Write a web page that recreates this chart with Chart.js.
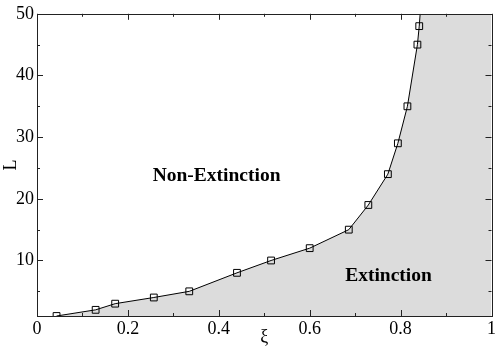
<!DOCTYPE html>
<html>
<head>
<meta charset="utf-8">
<script src="https://cdn.jsdelivr.net/npm/chart.js@4"></script>
<style>
  body { margin: 0; background: #fff; }
  #wrap { width: 498px; height: 354px; }
</style>
</head>
<body>
<div id="wrap"><canvas id="chart"></canvas></div>
<script>
// boundary between extinction / non-extinction
const xi = [0.043, 0.129, 0.172, 0.257, 0.335, 0.44, 0.515, 0.6, 0.686, 0.729, 0.772, 0.794, 0.815, 0.837, 0.841];
const L  = [1, 2, 3, 4, 5, 8, 10, 12, 15, 19, 24, 29, 35, 45, 48];
// the curve runs on to the top edge past the last marker
const tailX = 0.843, tailY = 50;

const xTicks = [0, 0.2, 0.4, 0.6, 0.8, 1];
const xLabels = ['0', '0.2', '0.4', '0.6', '0.8', '1'];
const xMinor = [0.1, 0.3, 0.5, 0.7, 0.9];
const yTicks = [10, 20, 30, 40, 50];
const yMinor = [5, 15, 25, 35, 45];

const serif = '"Liberation Serif", "Times New Roman", serif';

const curve = xi.map((x, i) => ({ x: x, y: L[i] }));
curve.push({ x: tailX, y: tailY });
const region = curve.concat([{ x: 1, y: 50 }]);

const frame = {
  id: 'frame',
  afterDatasetsDraw(chart) {
    const { ctx, chartArea: a, scales: { x, y } } = chart;
    ctx.save();
    ctx.strokeStyle = '#222';
    ctx.lineWidth = 1;
    ctx.beginPath();
    const tick = (len, vals, axis) => {
      vals.forEach(v => {
        if (axis === 'x') {
          const px = Math.round(x.getPixelForValue(v)) + 0.5;
          ctx.moveTo(px, a.bottom); ctx.lineTo(px, a.bottom - len);
          ctx.moveTo(px, a.top); ctx.lineTo(px, a.top + len);
        } else {
          const py = Math.round(y.getPixelForValue(v)) + 0.5;
          ctx.moveTo(a.left, py); ctx.lineTo(a.left + len, py);
          ctx.moveTo(a.right, py); ctx.lineTo(a.right - len, py);
        }
      });
    };
    tick(6, xTicks, 'x');
    tick(3, xMinor, 'x');
    tick(6, yTicks, 'y');
    tick(3, yMinor, 'y');
    ctx.stroke();
    ctx.strokeRect(Math.round(a.left) + 0.5, Math.round(a.top) + 0.5,
                   Math.round(a.right - a.left), Math.round(a.bottom - a.top));

    ctx.fillStyle = '#000';
    ctx.font = 'bold 19.5px ' + serif;
    ctx.textAlign = 'left';
    ctx.textBaseline = 'alphabetic';
    ctx.fillText('Non-Extinction', x.getPixelForValue(0.2545), y.getPixelForValue(22.9));
    ctx.fillText('Extinction', x.getPixelForValue(0.678), y.getPixelForValue(6.67));
    ctx.restore();
  }
};

new Chart(document.getElementById('chart'), {
  type: 'line',
  data: {
    datasets: [
      {
        data: curve,
        borderColor: '#000',
        borderWidth: 1,
        tension: 0,
        fill: false,
        pointStyle: 'rect',
        pointRadius: curve.map((p, i) => i < xi.length ? 4.8 : 0),
        pointBorderColor: '#000',
        pointBorderWidth: 1,
        pointBackgroundColor: 'transparent',
        order: 0,
      },
      {
        data: region,
        borderWidth: 0,
        borderColor: 'transparent',
        backgroundColor: '#dcdcdc',
        pointRadius: 0,
        tension: 0,
        fill: 'start',
        order: 1,
      }
    ]
  },
  options: {
    responsive: true,
    maintainAspectRatio: false,
    animation: false,
    layout: { padding: { top: 6, right: 4, left: 0, bottom: 0 } },
    plugins: { legend: { display: false }, tooltip: { enabled: false } },
    scales: {
      x: {
        type: 'linear', min: 0, max: 1,
        afterBuildTicks: s => { s.ticks = xTicks.map(v => ({ value: v })); },
        afterFit: s => { s.height = 38; },
        ticks: {
          color: '#000', font: { family: serif, size: 18 }, padding: 2, maxRotation: 0,
          callback: (v, i) => xLabels[i]
        },
        grid: { display: false, drawTicks: false },
        border: { display: false },
        title: { display: true, text: 'ξ', color: '#000', font: { family: serif, size: 18 }, padding: { top: 0, bottom: 6 } }
      },
      y: {
        type: 'linear', min: 1, max: 50,
        afterBuildTicks: s => { s.ticks = yTicks.map(v => ({ value: v })); },
        afterFit: s => { s.width = 37; },
        ticks: { color: '#000', font: { family: serif, size: 18 }, padding: 3 },
        grid: { display: false, drawTicks: false },
        border: { display: false },
        title: { display: true, text: 'L', color: '#000', font: { family: serif, size: 18 }, padding: { top: 0, bottom: 0 } }
      }
    }
  },
  plugins: [frame]
});
</script>
</body>
</html>
